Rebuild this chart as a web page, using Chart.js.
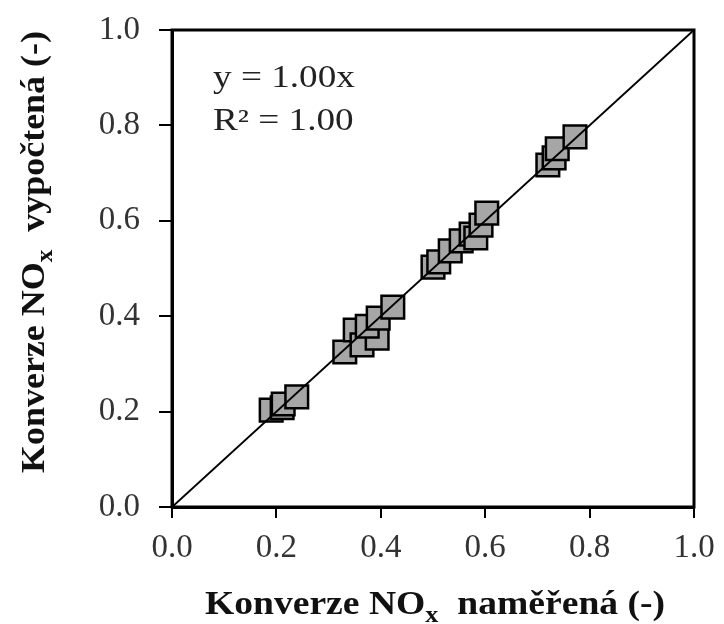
<!DOCTYPE html>
<html>
<head>
<meta charset="utf-8">
<script src="https://cdn.jsdelivr.net/npm/chart.js@4/dist/chart.umd.min.js"></script>
<style>
  html, body { margin: 0; padding: 0; background: #fff; }
  #wrap { width: 724px; height: 624px; }
</style>
</head>
<body>
<div id="wrap"><canvas id="c" width="724" height="624"></canvas></div>
<script>
// Measured NOx conversion (x) vs. calculated conversion (y)
const measured = [0.190, 0.211, 0.213, 0.239,
                  0.331, 0.351, 0.364, 0.393, 0.374, 0.395, 0.423,
                  0.500, 0.511, 0.533, 0.554, 0.573, 0.582, 0.592, 0.603,
                  0.720, 0.732, 0.738, 0.772];
const calculated = [0.203, 0.208, 0.216, 0.231,
                    0.325, 0.371, 0.340, 0.354, 0.379, 0.396, 0.419,
                    0.503, 0.514, 0.537, 0.558, 0.572, 0.564, 0.591, 0.616,
                    0.717, 0.732, 0.751, 0.776];
// Fitted line y = 1.00x
const fitX = [0, 1];
const fitSlope = 1.00;
const tickValues = [0, 0.2, 0.4, 0.6, 0.8, 1.0];
const fitLabel = 'y = 1.00x';
const r2Label = 'R² = 1.00';

const points = measured.map((x, i) => ({ x, y: calculated[i] }));
const fitLine = fitX.map(x => ({ x, y: fitSlope * x }));

const SERIF = '"Liberation Serif", "Times New Roman", serif';

// Frame, regression text and axis titles with subscripts
const decorations = {
  id: 'decorations',
  afterDraw(chart) {
    const { ctx, chartArea: a } = chart;
    ctx.save();
    ctx.strokeStyle = '#000';
    ctx.lineWidth = 3;
    ctx.strokeRect(a.left, a.top, a.right - a.left, a.bottom - a.top);

    // regression text, slightly widened serif
    ctx.fillStyle = '#222';
    ctx.font = '31px ' + SERIF;
    ctx.textBaseline = 'alphabetic';
    ctx.textAlign = 'left';
    ctx.save();
    ctx.translate(a.left + 41, 0);
    ctx.scale(1.2, 1);
    ctx.fillText(fitLabel, 0, a.top + 57);
    ctx.fillText(r2Label, 0, a.top + 100);
    ctx.restore();

    const BIG = 33, SMALL = 23;
    function titleWidth(parts) {
      let w = 0;
      ctx.font = 'bold ' + BIG + 'px ' + SERIF;
      w += ctx.measureText(parts[0]).width;
      ctx.font = 'bold ' + SMALL + 'px ' + SERIF;
      w += ctx.measureText(parts[1]).width;
      ctx.font = 'bold ' + BIG + 'px ' + SERIF;
      w += ctx.measureText(parts[2]).width;
      return w;
    }
    function drawTitle(parts, stretch) {
      const w = titleWidth(parts);
      ctx.scale(stretch, 1);
      let x = -w / 2;
      ctx.textAlign = 'left';
      ctx.fillStyle = '#111';
      ctx.font = 'bold ' + BIG + 'px ' + SERIF;
      ctx.fillText(parts[0], x, 0);
      x += ctx.measureText(parts[0]).width;
      ctx.font = 'bold ' + SMALL + 'px ' + SERIF;
      ctx.fillText(parts[1], x, 8);
      x += ctx.measureText(parts[1]).width;
      ctx.font = 'bold ' + BIG + 'px ' + SERIF;
      ctx.fillText(parts[2], x, 0);
    }
    ctx.save();
    ctx.translate(435, 614);
    drawTitle(['Konverze NO', 'x', '  naměřená (-)'], 1.14);
    ctx.restore();

    ctx.save();
    ctx.translate(44, 252);
    ctx.rotate(-Math.PI / 2);
    drawTitle(['Konverze NO', 'x', '  vypočtená (-)'], 1.09);
    ctx.restore();
    ctx.restore();
  }
};

new Chart(document.getElementById('c'), {
  type: 'scatter',
  data: {
    datasets: [
      {
        type: 'line',
        data: fitLine,
        borderColor: '#000',
        borderWidth: 2,
        pointRadius: 0,
        fill: false,
        order: 0
      },
      {
        data: points,
        pointStyle: 'rect',
        pointRadius: 16,
        pointHoverRadius: 16,
        backgroundColor: '#a6a6a6',
        borderColor: '#000',
        borderWidth: 2.5,
        order: 1
      }
    ]
  },
  options: {
    responsive: false,
    animation: false,
    events: [],
    layout: { padding: { left: 0, right: 30, top: 30, bottom: 0 } },
    plugins: { legend: { display: false }, tooltip: { enabled: false } },
    scales: {
      x: {
        type: 'linear',
        min: 0, max: 1,
        afterFit(s) { s.height = 117; s.paddingLeft = 0; s.paddingRight = 0; },
        afterBuildTicks(s) { s.ticks = tickValues.map(v => ({ value: v })); },
        grid: { display: true, drawOnChartArea: false, drawTicks: true, tickLength: 11, color: '#000', lineWidth: 2 },
        border: { display: true, color: '#000', width: 3 },
        ticks: {
          font: { family: SERIF, size: 33 },
          color: '#333',
          padding: 11,
          maxRotation: 0,
          callback: v => v.toFixed(1)
        }
      },
      y: {
        type: 'linear',
        min: 0, max: 1,
        afterFit(s) { s.width = 172; s.paddingTop = 0; s.paddingBottom = 0; },
        afterBuildTicks(s) { s.ticks = tickValues.map(v => ({ value: v })); },
        grid: { display: true, drawOnChartArea: false, drawTicks: true, tickLength: 13, color: '#000', lineWidth: 2 },
        border: { display: true, color: '#000', width: 3 },
        ticks: {
          font: { family: SERIF, size: 33 },
          color: '#333',
          padding: 19,
          callback: v => v.toFixed(1)
        }
      }
    }
  },
  plugins: [decorations]
});
</script>
</body>
</html>
